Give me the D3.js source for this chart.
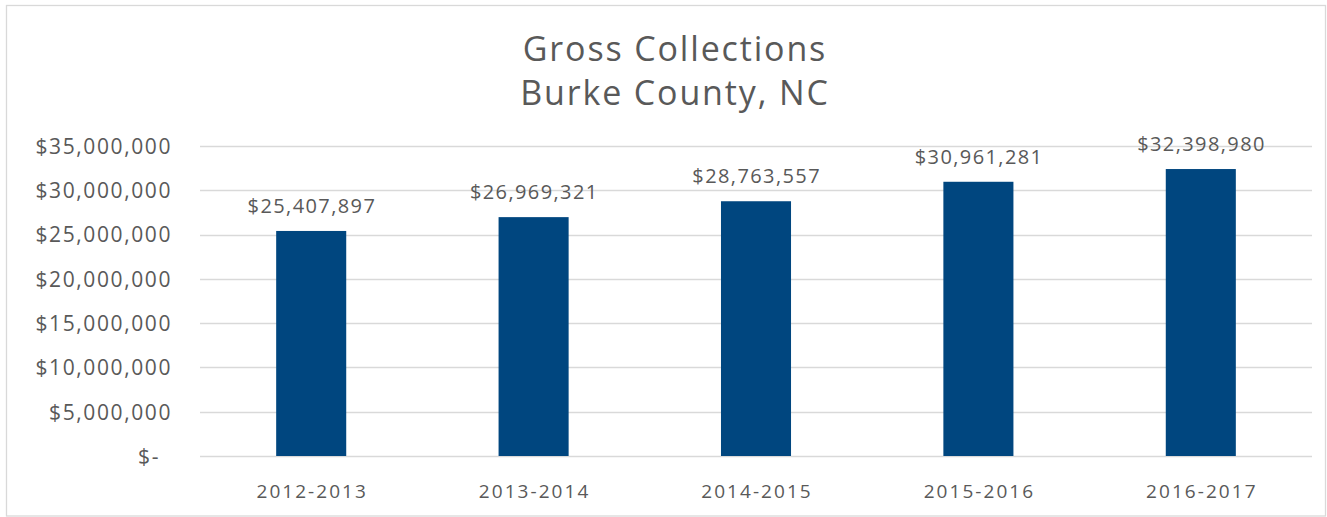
<!DOCTYPE html>
<html><head><meta charset="utf-8">
<script src="https://cdn.jsdelivr.net/npm/d3@7"></script>
<style>body{margin:0;background:#fff;} svg{display:block;} svg text{font-family:"Open Sans", Lato, sans-serif;}</style>
</head><body>
<svg id="chart" width="1327" height="517"></svg>
<script>
const categories = ["2012-2013","2013-2014","2014-2015","2015-2016","2016-2017"];
const values = [25407897, 26969321, 28763557, 30961281, 32398980];
const yTicks = [0, 5000000, 10000000, 15000000, 20000000, 25000000, 30000000, 35000000];
const titleLines = ["Gross Collections", "Burke County, NC"];

const W = 1327, H = 517;
const svg = d3.select("#chart");
const textColor = "#595959", gridColor = "#d9d9d9", barColor = "#00467f";
const m = {left: 200, right: 15, top: 146, bottom: 61};

svg.append("rect").attr("x", 6.5).attr("y", 5.5).attr("width", W - 8).attr("height", H - 6.5)
  .attr("fill", "#fff").attr("stroke", gridColor).attr("stroke-width", 1.3);

const x = d3.scaleBand().domain(categories).range([m.left, W - m.right]).paddingInner(0.685).paddingOuter(0.3425);
const y = d3.scaleLinear().domain([0, 35000000]).range([H - m.bottom, m.top]);

const fmt = d3.format(",.0f");
const money = v => v === 0 ? "$-" : "$" + fmt(v);

// gridlines
svg.append("g").selectAll("line").data(yTicks).join("line")
  .attr("x1", m.left).attr("x2", W - m.right)
  .attr("y1", d => Math.round(y(d)) + 0.5).attr("y2", d => Math.round(y(d)) + 0.5)
  .attr("stroke", gridColor).attr("stroke-width", 1.5);

// y axis
const yAxis = svg.append("g").attr("transform", `translate(${m.left - 28},0)`)
  .call(d3.axisLeft(y).tickValues(yTicks).tickFormat(money).tickSize(0).tickPadding(0));
yAxis.attr("font-family", null).attr("font-size", null);
yAxis.select(".domain").remove();
yAxis.selectAll("text").attr("fill", textColor).style("font-size", "21px").style("letter-spacing", "1.6px")
  .attr("dx", d => d === 0 ? -12 : 0).attr("dy", "0.35em");

// bars
svg.append("g").selectAll("rect").data(values).join("rect")
  .attr("x", (d, i) => x(categories[i])).attr("width", x.bandwidth())
  .attr("y", d => y(d)).attr("height", d => y(0) - y(d)).attr("fill", barColor);

// value labels
svg.append("g").selectAll("text").data(values).join("text")
  .attr("x", (d, i) => x(categories[i]) + x.bandwidth() / 2 + 0.7)
  .attr("y", d => y(d) - 18)
  .attr("text-anchor", "middle").attr("fill", textColor)
  .style("font-size", "20px").style("letter-spacing", "1.4px")
  .text(d => money(d));

// x axis
const xAxis = svg.append("g").attr("transform", `translate(0,${y(0)})`)
  .call(d3.axisBottom(x).tickSize(0).tickPadding(28.5));
xAxis.attr("font-family", null).attr("font-size", null);
xAxis.select(".domain").remove();
xAxis.selectAll("text").attr("fill", textColor).style("font-size", "19px").style("letter-spacing", "2.05px")
  .attr("dx", 1);

// title
svg.append("g").selectAll("text").data(titleLines).join("text")
  .attr("x", 675).attr("y", (d, i) => 61 + i * 43.5)
  .attr("text-anchor", "middle").attr("fill", textColor)
  .style("font-size", "34px").style("letter-spacing", "1.85px")
  .text(d => d);
</script>
</body></html>
